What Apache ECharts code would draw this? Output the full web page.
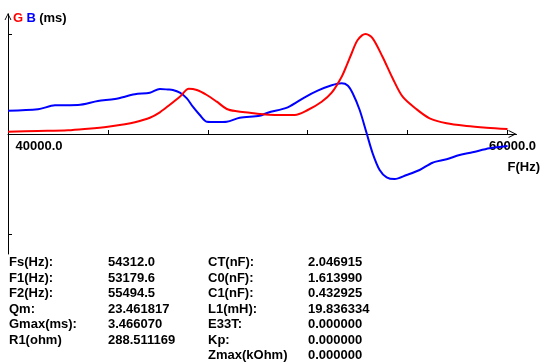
<!DOCTYPE html>
<html><head><meta charset="utf-8">
<script src="https://cdn.jsdelivr.net/npm/echarts@6/dist/echarts.min.js"></script>
<style>html,body{margin:0;padding:0;background:#fff}#c{width:543px;height:364px}</style>
</head><body><div id="c"></div>
<script>
// Conductance G (ms) vs frequency
const freqG = [40000,41200,42400,43200,44000,44680,45080,45680,46080,46480,46880,47240,47560,47960,48360,48760,49160,49680,50080,50680,51480,52000,52560,52960,53360,53560,53760,54000,54320,54600,55000,55400,55800,56360,56880,57560,58360,59160,60000];
const valG  = [0.080,0.104,0.128,0.184,0.253,0.336,0.406,0.565,0.752,1.016,1.293,1.570,1.525,1.352,1.120,0.867,0.787,0.738,0.693,0.659,0.659,0.832,1.120,1.431,1.986,2.380,2.800,3.258,3.466,3.317,2.669,1.931,1.293,0.856,0.544,0.371,0.277,0.218,0.173];
// Susceptance B (ms) vs frequency
const freqB = [40000,41200,41880,42800,43600,44280,45080,45680,46080,46400,46600,46880,47160,47400,47680,47960,48360,48760,49280,50080,50400,51200,51880,52400,52960,53360,53600,53800,54080,54360,54600,54880,55160,55480,55960,56480,57000,57560,58080,58600,59280,60000];
const valB  = [0.808,0.856,0.995,1.005,1.144,1.213,1.376,1.431,1.560,1.542,1.525,1.431,1.237,0.946,0.659,0.426,0.416,0.426,0.565,0.634,0.738,0.925,1.272,1.501,1.688,1.757,1.681,1.411,0.832,0.024,-0.669,-1.248,-1.501,-1.560,-1.421,-1.248,-0.995,-0.877,-0.728,-0.634,-0.496,-0.416];

const xTickValues = [44000,48000,52000,56000,60000];
const xLabelValues = [40000,60000];
const yTickValues = [-3.46607,3.46607];

const statLabelsA = ['Fs(Hz):','F1(Hz):','F2(Hz):','Qm:','Gmax(ms):','R1(ohm)'];
const statValuesA = ['54312.0','53179.6','55494.5','23.461817','3.466070','288.511169'];
const statLabelsB = ['CT(nF):','C0(nF):','C1(nF):','L1(mH):','E33T:','Kp:','Zmax(kOhm)'];
const statValuesB = ['2.046915','1.613990','0.432925','19.836334','0.000000','0.000000','0.000000'];

const FONT = 'bold 13px "Liberation Sans", Arial, sans-serif';
const chevron = 'path://M0,10 L5,0 L10,10 L8.6,10 L5,2.6 L1.4,10 Z';

const graphics = [];
const rowTop = 256, rowStep = 15.5;
function addCol(arr, x) {
  arr.forEach((t, i) => graphics.push({type:'text', x: x, y: Math.round(rowTop + i*rowStep),
    style:{text:t, font:FONT, fill:'#000', textVerticalAlign:'top'}}));
}
addCol(statLabelsA, 9); addCol(statValuesA, 108);
addCol(statLabelsB, 208); addCol(statValuesB, 308);

const chart = echarts.init(document.getElementById('c'), null, {renderer:'canvas'});
chart.setOption({
  animation:false,
  backgroundColor:'#fff',
  grid:{left:8, top:14, width:509, height:240, containLabel:false},
  xAxis:{
    type:'value', min:40000, max:60360, position:'bottom', offset:-120,
    name:'F(Hz)', nameLocation:'end', nameGap:-9,
    nameTextStyle:{color:'#000', fontFamily:'Liberation Sans', fontWeight:'bold', fontSize:13, align:'left', verticalAlign:'top', padding:[27,0,0,0]},
    axisLine:{onZero:false, lineStyle:{color:'#000', width:1}, symbol:['none', chevron], symbolSize:[8,9], symbolOffset:[0,-4]},
    axisTick:{show:true, inside:true, length:4, customValues:xTickValues, lineStyle:{color:'#000'}},
    axisLabel:{show:true, customValues:xLabelValues, margin:6, color:'#000',
      fontFamily:'Liberation Sans', fontWeight:'bold', fontSize:13,
      formatter:(v)=> v===40000 ? '{l|'+v.toFixed(1)+'}' : '{r|'+v.toFixed(1)+'}',
      rich:{l:{padding:[0,0,0,62], fontFamily:'Liberation Sans', fontWeight:'bold', fontSize:13, color:'#000'},
            r:{padding:[0,0,0,10], fontFamily:'Liberation Sans', fontWeight:'bold', fontSize:13, color:'#000'}}},
    splitLine:{show:false}
  },
  yAxis:{
    type:'value', min:-4.16, max:4.16,
    name:'{g|G} {b|B} {m|(ms)}', nameLocation:'end', nameGap:-4,
    nameTextStyle:{align:'left', verticalAlign:'middle', padding:[0,0,0,5],
      rich:{g:{color:'#ff0000', fontFamily:'Liberation Sans', fontWeight:'bold', fontSize:13},
            b:{color:'#0000ff', fontFamily:'Liberation Sans', fontWeight:'bold', fontSize:13},
            m:{color:'#000', fontFamily:'Liberation Sans', fontWeight:'bold', fontSize:13}}},
    axisLine:{show:true, onZero:false, lineStyle:{color:'#000', width:1}, symbol:['none', chevron], symbolSize:[10,7], symbolOffset:[0,-2.5]},
    axisTick:{show:true, inside:true, length:4, customValues:yTickValues, lineStyle:{color:'#000'}},
    axisLabel:{show:false},
    splitLine:{show:false}
  },
  series:[
    {name:'G', type:'line', data:freqG.map((f,i)=>[f,valG[i]]), showSymbol:false, smooth:0.3,
     lineStyle:{color:'#ff0000', width:2}, itemStyle:{color:'#ff0000'}, z:3},
    {name:'B', type:'line', data:freqB.map((f,i)=>[f,valB[i]]), showSymbol:false, smooth:0.3,
     lineStyle:{color:'#0000ff', width:2}, itemStyle:{color:'#0000ff'}, z:2}
  ],
  graphic:graphics
});
</script></body></html>
